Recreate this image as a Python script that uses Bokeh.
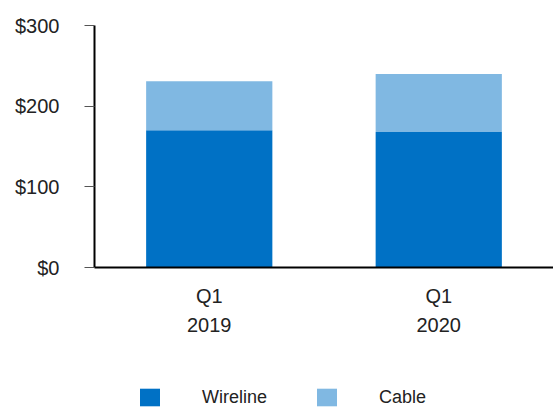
from bokeh.plotting import figure
from bokeh.layouts import column
from bokeh.models import ColumnDataSource, FactorRange, Range1d, Legend, LegendItem, FixedTicker
from bokeh.embed import file_html
from bokeh.resources import INLINE

quarters = ["Q1\n2019", "Q1\n2020"]
wireline = [170, 168]
cable = [61, 72]
series = ["Wireline", "Cable"]
y_ticks = [0, 100, 200, 300]
y_tick_labels = ["$0", "$100", "$200", "$300"]

FONT = "Liberation Sans"
COLORS = ["#0071C5", "#80B8E2"]
TEXT = "#222222"

source = ColumnDataSource(dict(quarter=quarters, Wireline=wireline, Cable=cable))

p = figure(
    x_range=FactorRange(factors=quarters, range_padding=0),
    y_range=Range1d(0, 300),
    width=553, height=380,
    output_backend="svg", toolbar_location=None,
    min_border_left=94, min_border_right=0, min_border_top=25, min_border_bottom=113,
)
p.outline_line_color = None
p.xgrid.grid_line_color = None
p.ygrid.grid_line_color = None

rs = p.vbar_stack(series, x="quarter", width=0.55,
                  color=COLORS, line_color=None, source=source)

# y axis
p.yaxis.ticker = FixedTicker(ticks=y_ticks)
p.yaxis.major_label_overrides = {t: l for t, l in zip(y_ticks, y_tick_labels)}
p.yaxis.axis_line_color = "black"
p.yaxis.axis_line_width = 2
p.yaxis.major_tick_out = 10
p.yaxis.major_tick_in = 0
p.yaxis.major_tick_line_color = "#555555"
p.yaxis.minor_tick_line_color = None
p.yaxis.major_label_standoff = 25
p.yaxis.major_label_text_font = FONT
p.yaxis.major_label_text_font_size = "20px"
p.yaxis.major_label_text_color = TEXT

# x axis
p.xaxis.axis_line_color = "black"
p.xaxis.axis_line_width = 2
p.xaxis.major_tick_line_color = None
p.xaxis.minor_tick_line_color = None
p.xaxis.major_label_standoff = 11
p.xaxis.major_label_text_font = FONT
p.xaxis.major_label_text_font_size = "20px"
p.xaxis.major_label_text_line_height = 1.35
p.xaxis.major_label_text_color = TEXT

# legend strip below the chart (its frame is aligned with the chart's frame)
lg = figure(
    x_range=FactorRange(factors=quarters, range_padding=0),
    y_range=Range1d(1000, 1001),  # keeps the key's own bars out of view
    width=553, height=28,
    output_backend="svg", toolbar_location=None,
    x_axis_type=None, y_axis_type=None,
    min_border_left=94, min_border_right=0, min_border_top=0, min_border_bottom=0,
)
lg.outline_line_color = None
lg.xgrid.grid_line_color = None
lg.ygrid.grid_line_color = None
key_renderers = lg.vbar_stack(series, x="quarter", width=0.55,
                              color=COLORS, line_color=None, source=source)

legend = Legend(
    items=[LegendItem(label=s, renderers=[r]) for s, r in zip(series, key_renderers)],
    orientation="horizontal",
    location=(43, 0),
    glyph_width=25, glyph_height=22,
    label_standoff=40, spacing=47,
    padding=0, margin=0,
    border_line_color=None, background_fill_alpha=0,
    label_text_font=FONT, label_text_font_size="18px", label_text_color=TEXT,
)
lg.add_layout(legend, "center")

layout = column(p, lg, spacing=0)
open("out.html", "w").write(file_html(layout, INLINE))
